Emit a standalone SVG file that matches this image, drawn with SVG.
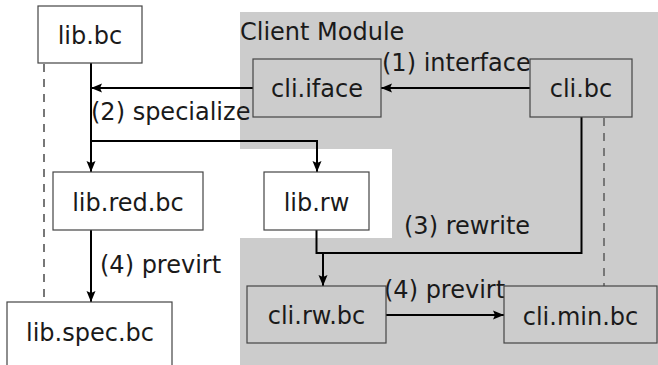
<svg xmlns="http://www.w3.org/2000/svg" width="658" height="365" viewBox="0 0 658 365">
  <style>
    .box { stroke: #444; stroke-width: 1.2; }
    .lib { fill: #ffffff; }
    .cli { fill: #cccccc; }
    .lbl { font-family: "DejaVu Sans", "Liberation Sans", sans-serif; font-size: 24px; fill: #1a1a1a; }
    .mid { text-anchor: middle; }
    .edge { fill: none; stroke: #000; stroke-width: 2; }
    .life { fill: none; stroke: #777; stroke-width: 2; stroke-dasharray: 8 7; }
  </style>
  <defs>
    <marker id="arrow" markerUnits="userSpaceOnUse" markerWidth="12" markerHeight="10" refX="11" refY="5" orient="auto">
      <path d="M0,0.5 L11,5 L0,9.5 L2,5 z" fill="#000"/>
    </marker>
  </defs>

  <rect width="658" height="365" fill="#ffffff"/>

  <!-- client module area, with the lib.rw notch left white -->
  <g id="client-module">
    <path d="M240,12 H658 V365 H240 V238 H392 V149 H240 Z" fill="#cccccc"/>
    <text class="lbl" x="240" y="40">Client Module</text>
  </g>

  <!-- dashed lifelines -->
  <g id="lifelines">
    <line class="life" x1="44" y1="64" x2="44" y2="302"/>
    <line class="life" x1="604" y1="118" x2="604" y2="286"/>
  </g>

  <g id="connectors">
    <path class="edge" d="M530,88 H381" marker-end="url(#arrow)"/>
    <text class="lbl" x="382" y="71">(1) interface</text>
    <path class="edge" d="M253,88 H91" marker-end="url(#arrow)"/>
    <path class="edge" d="M91,63 V172" marker-end="url(#arrow)"/>
    <path class="edge" d="M91,141 H317 V172" marker-end="url(#arrow)"/>
    <text class="lbl" x="91" y="120">(2) specialize</text>
    <path class="edge" d="M316.5,230 V253 H581.5 V117"/>
    <path class="edge" d="M323,253 V286" marker-end="url(#arrow)"/>
    <text class="lbl" x="404" y="234">(3) rewrite</text>
    <path class="edge" d="M386,315 H504" marker-end="url(#arrow)"/>
    <text class="lbl" x="384" y="298">(4) previrt</text>
    <path class="edge" d="M91,230 V302" marker-end="url(#arrow)"/>
    <text class="lbl" x="100" y="273">(4) previrt</text>
  </g>

  <g id="lib-bc">
    <rect class="box lib" x="38" y="6" width="104" height="57"/>
    <text class="lbl mid" x="90" y="44">lib.bc</text>
  </g>
  <g id="cli-iface">
    <rect class="box cli" x="253" y="59" width="128" height="58"/>
    <text class="lbl mid" x="317" y="97">cli.iface</text>
  </g>
  <g id="cli-bc">
    <rect class="box cli" x="530" y="59" width="102" height="58"/>
    <text class="lbl mid" x="581" y="97">cli.bc</text>
  </g>
  <g id="lib-red-bc">
    <rect class="box lib" x="53" y="172" width="150" height="58"/>
    <text class="lbl mid" x="128" y="211">lib.red.bc</text>
  </g>
  <g id="lib-rw">
    <rect class="box lib" x="264" y="172" width="105" height="58"/>
    <text class="lbl mid" x="316.5" y="211">lib.rw</text>
  </g>
  <g id="lib-spec-bc">
    <rect class="box lib" x="7" y="302" width="165" height="70"/>
    <text class="lbl mid" x="90" y="341">lib.spec.bc</text>
  </g>
  <g id="cli-rw-bc">
    <rect class="box cli" x="247" y="286" width="139" height="57"/>
    <text class="lbl mid" x="316.5" y="324">cli.rw.bc</text>
  </g>
  <g id="cli-min-bc">
    <rect class="box cli" x="504" y="286" width="153" height="57"/>
    <text class="lbl mid" x="580.5" y="325">cli.min.bc</text>
  </g>
</svg>
